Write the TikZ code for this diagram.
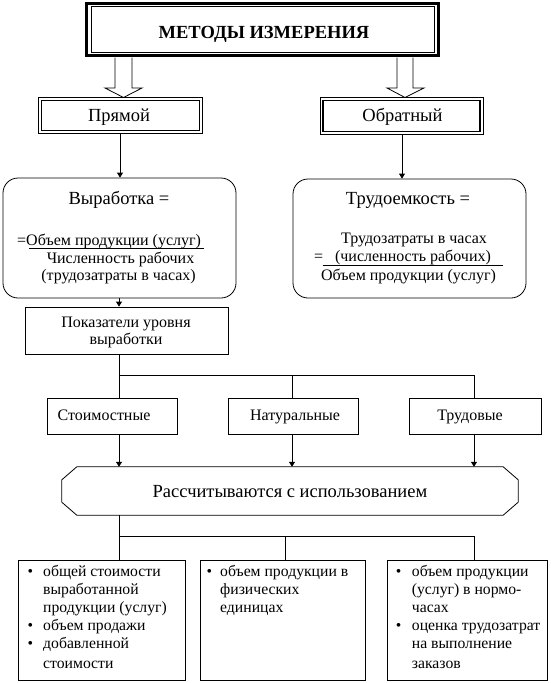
\documentclass[tikz,border=0pt]{standalone}
\usepackage{fontspec}
\setmainfont{Liberation Serif}
\usetikzlibrary{arrows.meta}
\newcommand\fsmall{\fontsize{16}{17.8}\selectfont}
\newcommand\flist{\fontsize{15.7}{17.8}\selectfont}
\newcommand\fbig{\fontsize{18.5}{22}\selectfont}
\newcommand\fbigb{\fontsize{18.5}{22}\selectfont\bfseries}
\newcommand\bl[1]{\makebox[#1][l]{\textbullet}}
\begin{document}
\begin{tikzpicture}[x=1pt,y=-1pt,
  thin line/.style={line width=0.8pt},
  boxnode/.style={draw,line width=0.8pt,inner sep=0pt},
  smt/.style={font=\fsmall,anchor=base,inner sep=0pt},
  bigt/.style={font=\fbig,anchor=base,inner sep=0pt},
  listt/.style={font=\flist,anchor=base west,inner sep=0pt},
  arr/.style={line width=0.8pt,-{Triangle[width=6pt,length=5pt]}},
  blockarrow/.style={draw,line width=0.8pt,fill=white,line join=miter}
]
\useasboundingbox (0,0) rectangle (551,683);

% title
\node[draw,line width=3pt,inner sep=0pt,minimum width=352pt,minimum height=52pt] (title) at (262.5,29.5) {};
\draw[line width=0.8pt] ([shift={(6,4.5)}]title.north west) rectangle ([shift={(-6,-4.5)}]title.south east);
\node[font=\fbigb,anchor=base,inner sep=0pt] (titlet) at (264,38.5) {МЕТОДЫ ИЗМЕРЕНИЯ};

% block arrows
\draw[blockarrow] (115,57.5) -- (115,88) -- (105,88) -- (123.5,97.5) -- (142,88) -- (132,88) -- (132,57.5);
\draw[blockarrow] (397,57.5) -- (397,88) -- (387,88) -- (405,97.5) -- (424,88) -- (413,88) -- (413,57.5);

% Прямой / Обратный
\node[boxnode,minimum width=164pt,minimum height=36pt] (prm) at (120.5,115.5) {};
\draw[line width=1.7pt] ([shift={(3.5,3.5)}]prm.north west) rectangle ([shift={(-3.5,-3.5)}]prm.south east);
\node[bigt] (prmt) at (119,121.5) {Прямой};
\node[boxnode,minimum width=163pt,minimum height=37pt] (obr) at (401.5,116) {};
\draw[line width=1.7pt] ([shift={(3.5,3.5)}]obr.north west) rectangle ([shift={(-3.5,-3.5)}]obr.south east);
\node[bigt] (obrt) at (402.5,121.5) {Обратный};

% rounded boxes
\node[boxnode,rounded corners=15pt,minimum width=233pt,minimum height=120pt] (vyr) at (119.5,238) {};
\node[boxnode,rounded corners=15pt,minimum width=233pt,minimum height=119pt] (trud) at (409.5,238.5) {};
\coordinate (cx1) at (120,0);
\coordinate (cx2) at (402,0);
\draw[arr] (cx1 |- prm.south) -- (cx1 |- vyr.north);
\draw[arr] (cx2 |- obr.south) -- (cx2 |- trud.north);

\node[bigt] (vyrt) at (119,204.5) {Выработка =};
\node[smt,anchor=base west] (vyr1) at (17,245.5) {=Объем продукции (услуг)};
\draw[thin line] (29,248.5) -- (204,248.5);
\node[smt] (vyr2) at (120.5,263) {Численность рабочих};
\node[smt] (vyr3) at (118.5,280.5) {(трудозатраты в часах)};

\node[bigt] (trudt) at (408,204.5) {Трудоемкость =};
\node[smt] (trud1) at (414,243.5) {Трудозатраты в часах};
\node[smt,anchor=base west] (trud2) at (314,261.5) {=};
\node[smt] (trud3) at (413,261.5) {(численность рабочих)};
\draw[thin line] (322.5,265) -- (502.5,265);
\node[smt] (trud4) at (408.5,280.5) {Объем продукции (услуг)};

% Показатели
\node[boxnode,minimum width=203pt,minimum height=47pt] (pok) at (126.5,330.5) {};
\node[smt] (pok1) at (126,327.7) {Показатели уровня};
\node[smt] (pok2) at (126,344.3) {выработки};
\coordinate (cx0) at (119,0);
\draw[arr] (cx0 |- vyr.south) -- (cx0 |- pok.north);

% second level
\node[boxnode,minimum width=130pt,minimum height=36pt] (stm) at (112,416) {};
\node[boxnode,minimum width=130pt,minimum height=36pt] (nat) at (293,416) {};
\node[boxnode,minimum width=132pt,minimum height=36pt] (trd) at (475,416) {};
\node[smt] (stmt) at (104,420) {Стоимостные};
\node[smt] (natt) at (295,420) {Натуральные};
\node[smt] (trdt) at (470,420) {Трудовые};

\coordinate (s1) at (119,375);
\coordinate (s2) at (292,375);
\coordinate (s3) at (474,375);
\draw[thin line] (s1 |- pok.south) -- (s1 |- stm.north);
\draw[thin line] (s1) -- (s3) -- (s3 |- trd.north);
\draw[thin line] (s2) -- (s2 |- nat.north);

% hexagon
\node[inner sep=0pt,minimum width=456pt,minimum height=48pt] (calc) at (290,491) {};
\draw[thin line] ([shift={(15,0)}]calc.north west) -- ([shift={(-15,0)}]calc.north east)
  -- ([shift={(0,13)}]calc.north east) -- ([shift={(0,-13)}]calc.south east)
  -- ([shift={(-15,0)}]calc.south east) -- ([shift={(15,0)}]calc.south west)
  -- ([shift={(0,-13)}]calc.south west) -- ([shift={(0,13)}]calc.north west) -- cycle;
\node[bigt] (calct) at (290,497.5) {Рассчитываются с использованием};
\draw[arr] (s1 |- stm.south) -- (s1 |- calc.north);
\draw[arr] (s2 |- nat.south) -- (s2 |- calc.north);
\draw[arr] (s3 |- trd.south) -- (s3 |- calc.north);

% bottom boxes
\node[boxnode,minimum width=167pt,minimum height=120pt] (b1) at (101.5,620) {};
\node[boxnode,minimum width=165pt,minimum height=120pt] (b2) at (282.5,620) {};
\node[boxnode,minimum width=160pt,minimum height=120pt] (b3) at (467,620) {};
\coordinate (t2) at (119,536);
\coordinate (t3) at (285,536);
\coordinate (t4) at (474,536);
\draw[thin line] (t2 |- calc.south) -- (t2 |- b1.north);
\draw[thin line] (t2) -- (t4) -- (t4 |- b3.north);
\draw[thin line] (t3) -- (t3 |- b2.north);

\node[listt] (b1t) at (27.5,576.5) {\begin{tabular}[t]{@{}l@{}}
\bl{15.5pt}общей стоимости\\
\hspace*{15.5pt}выработанной\\
\hspace*{15.5pt}продукции (услуг)\\[1pt]
\bl{15.5pt}объем продажи\\
\bl{15.5pt}добавленной\\[1.5pt]
\hspace*{15.5pt}стоимости
\end{tabular}};
\node[listt] (b2t) at (206.5,576.5) {\begin{tabular}[t]{@{}l@{}}
\bl{13.5pt}объем продукции в\\
\hspace*{13.5pt}физических\\
\hspace*{13.5pt}единицах
\end{tabular}};
\node[listt] (b3t) at (395.7,576.5) {\begin{tabular}[t]{@{}l@{}}
\bl{16pt}объем продукции\\
\hspace*{16pt}(услуг) в нормо-\\
\hspace*{16pt}часах\\[1pt]
\bl{16pt}оценка трудозатрат\\
\hspace*{16pt}на выполнение\\[1.5pt]
\hspace*{16pt}заказов
\end{tabular}};
\end{tikzpicture}
\end{document}
